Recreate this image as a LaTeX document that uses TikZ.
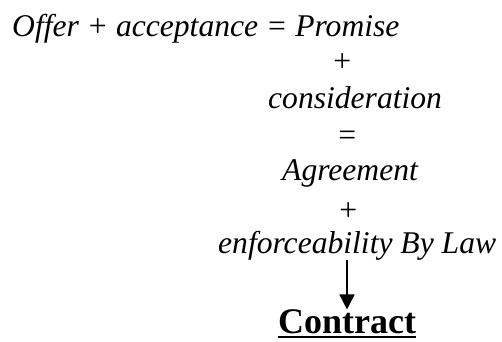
\documentclass[tikz,border=0pt]{standalone}
\usepackage{fontspec}
\setmainfont{Liberation Serif}
\usetikzlibrary{arrows.meta}
\begin{document}
\begin{tikzpicture}[x=1pt,y=1pt,
  txt/.style={font=\fontsize{31.6}{36}\selectfont\itshape, inner sep=0pt, anchor=base west},
  sym/.style={font=\fontsize{31.6}{36}\selectfont\itshape, inner sep=0pt, anchor=base},
  big/.style={font=\fontsize{36}{40}\selectfont\bfseries, inner sep=0pt, anchor=base west},
  arr/.style={line width=1.5pt, -{Triangle[width=15pt,length=15pt]}}]
\useasboundingbox (0,0) rectangle (502,-341);
\node[txt] (l1) at (12,-36) {Offer + acceptance = Promise};
\node[sym] (p1) at (342,-71) {+};
\node[txt] (cons) at (268,-108) {consideration};
\node[sym] (eq) at (347,-145) {=};
\node[txt] (agr) at (282,-180) {Agreement};
\node[sym] (p2) at (348,-220) {+};
\node[txt] (enf) at (218,-253) {enforceability By Law};
\node[big] (con) at (278,-333.5) {Contract};
\draw[line width=2pt] ([yshift=-3pt]con.base west) -- ([yshift=-3pt]con.base east);
\draw[arr] (enf.south -| 347,0) -- (con.north -| 347,0);
\end{tikzpicture}
\end{document}
